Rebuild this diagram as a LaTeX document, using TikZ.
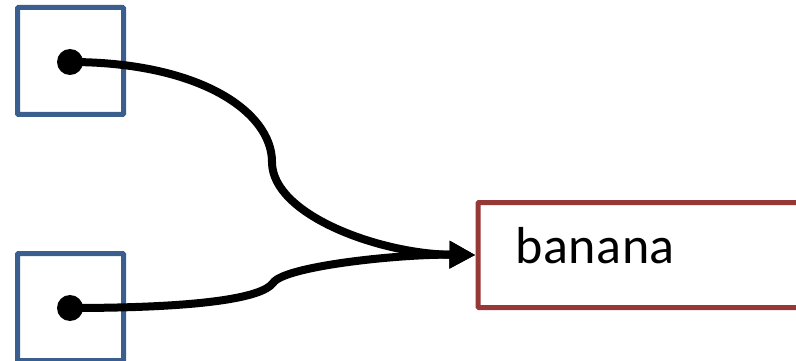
\documentclass[tikz,border=0pt]{standalone}
\usepackage{fontspec}
\setmainfont{Carlito}
\newfontfamily\labelfont[LetterSpace=1.2]{Carlito}
\usetikzlibrary{arrows.meta}
\definecolor{boxblue}{HTML}{3A5F8E}
\definecolor{boxred}{HTML}{953836}
\tikzset{
  refbox/.style={draw=boxblue, line width=5pt, rounded corners=1pt, minimum width=106pt, minimum height=107pt, inner sep=0pt},
  valbox/.style={draw=boxred, line width=5pt, rounded corners=1pt, minimum width=380pt, minimum height=105pt, inner sep=0pt, anchor=west},
  refdot/.style={circle, fill=black, minimum size=26pt, inner sep=0pt},
  pointer/.style={line width=8pt, -{Triangle[length=26pt,width=26pt]}}
}
\begin{document}
\begin{tikzpicture}[x=1pt,y=-1pt]
  \useasboundingbox (0,0) rectangle (796,361);
  % two reference cells
  \node[refbox] (ra) at (70.5,61) {};
  \node[refbox] (rb) at (70.5,307) {};
  \node[refdot] (da) at (70,62) {};
  \node[refdot] (db) at (70,308) {};
  % value cell
  \node[valbox] (val) at (475.5,255) {};
  \node[anchor=base west, font=\labelfont\fontsize{52}{60}\selectfont, inner sep=0pt] (word) at (515,263) {banana};
  \coordinate (tip) at (val.west);
  \coordinate (ma) at (272,162);
  \coordinate (mb) at (273,283);
  % pointers
  \draw[pointer] (da.center) .. controls (200,62) and (272,112) .. (ma)
                 .. controls (272,215) and (380,254) .. (tip);
  \draw[pointer] (db.center) .. controls (200,308) and (262,298) .. (mb)
                 .. controls (284,266) and (400,254) .. (tip);
\end{tikzpicture}
\end{document}
